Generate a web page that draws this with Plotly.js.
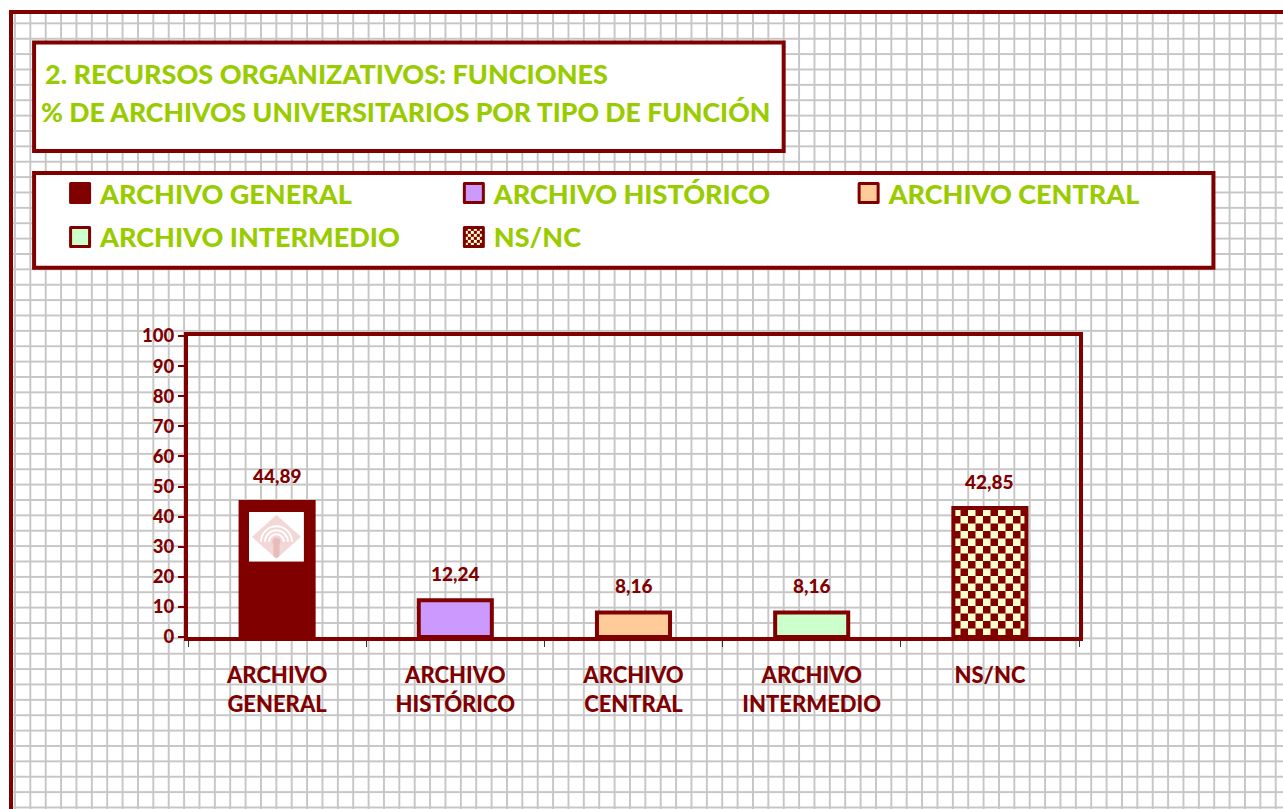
<!DOCTYPE html>
<html>
<head>
<meta charset="utf-8">
<script src="https://cdn.plot.ly/plotly-3.0.1.min.js"></script>
<style>
html,body{margin:0;padding:0;background:#fff;width:1283px;height:809px;overflow:hidden}
#frame{position:absolute;left:9px;top:10px;width:1300px;height:820px;
  border-left:4px solid #800000;border-top:4px solid #800000;background-color:#fff;
  background-image:linear-gradient(to right,#c6c6c6 0,#c6c6c6 2px,transparent 2px),
                   linear-gradient(to bottom,#c6c6c6 0,#c6c6c6 2px,transparent 2px);
  background-size:15.375px 15.375px;background-position:1px 8.4px;}
#chart{position:absolute;left:0;top:0;width:1283px;height:809px}
</style>
</head>
<body>
<div id="frame"></div>
<div id="chart"></div>
<script>
// ---- data ----
var categories = ['ARCHIVO GENERAL', 'ARCHIVO HISTÓRICO', 'ARCHIVO CENTRAL', 'ARCHIVO INTERMEDIO', 'NS/NC'];
var tickLabels = ['ARCHIVO<br>GENERAL', 'ARCHIVO<br>HISTÓRICO', 'ARCHIVO<br>CENTRAL', 'ARCHIVO<br>INTERMEDIO', 'NS/NC'];
var values = [44.89, 12.24, 8.16, 8.16, 42.85];
var yTicks = [0, 10, 20, 30, 40, 50, 60, 70, 80, 90, 100];
var titleLines = ['2. RECURSOS ORGANIZATIVOS: FUNCIONES', '% DE ARCHIVOS UNIVERSITARIOS POR TIPO DE FUNCIÓN'];

// ---- styles ----
var DARK = '#800000', GREEN = '#99cc00';
var barColors = ['#800000', '#cc99ff', '#ffcc99', '#ccffcc', '#ffffcc'];
var FONT = 'Lato, "Open Sans", sans-serif';
var W8 = 900;

// plot area in pixels
var L = 188, R = 1079.5, T = 335.5, B = 637.5;
function px(x) { return (x - L) / (R - L); }
function py(y) { return (B - y) / (B - T); }

var legendIds = ['legend', 'legend2', 'legend3', 'legend4', 'legend5'];
var legendPos = [[60, 192.5], [454, 192.5], [849, 192.5], [60, 236.5], [454, 236.5]];

var traces = categories.map(function (c, i) {
  var t = {
    type: 'bar', name: c, x: [c], y: [values[i]],
    legend: legendIds[i], width: 0.41,
    marker: { color: barColors[i], line: { color: DARK, width: 4 } },
    hoverinfo: 'skip'
  };
  if (i === 4) {
    t.marker.pattern = { shape: 'x', bgcolor: '#ffffcc', fgcolor: DARK, size: 10, solidity: 0.5, fillmode: 'replace' };
  }
  return t;
});

function legendCfg(p) {
  return {
    x: px(p[0]), y: py(p[1]), xref: 'paper', yref: 'paper',
    xanchor: 'left', yanchor: 'middle', orientation: 'v',
    bgcolor: 'rgba(0,0,0,0)', borderwidth: 0, itemwidth: 30,
    font: { family: FONT, size: 27, color: GREEN, weight: W8 }
  };
}

var annotations = [
  { xref: 'paper', yref: 'paper', x: px(43), y: py(72), xanchor: 'left', yanchor: 'middle', showarrow: false,
    text: titleLines[0], font: { family: FONT, size: 27, color: GREEN, weight: W8 } },
  { xref: 'paper', yref: 'paper', x: px(39), y: py(110.5), xanchor: 'left', yanchor: 'middle', showarrow: false,
    text: titleLines[1], font: { family: FONT, size: 26.6, color: GREEN, weight: W8 } }
];
categories.forEach(function (c, i) {
  annotations.push({
    x: c, y: values[i], xref: 'x', yref: 'y', yanchor: 'bottom', yshift: 13, showarrow: false,
    text: values[i].toFixed(2).replace('.', ','),
    font: { family: FONT, size: 19, color: DARK, weight: W8 }
  });
});

var shapes = [
  { type: 'rect', xref: 'paper', yref: 'paper', x0: px(34), x1: px(784), y0: py(41), y1: py(150),
    line: { color: DARK, width: 4 }, fillcolor: '#ffffff', layer: 'below' },
  { type: 'rect', xref: 'paper', yref: 'paper', x0: px(34), x1: px(1214), y0: py(172), y1: py(267),
    line: { color: DARK, width: 4 }, fillcolor: '#ffffff', layer: 'below' }
];

var logo = 'data:image/svg+xml;utf8,' + encodeURIComponent(
  '<svg xmlns="http://www.w3.org/2000/svg" width="55" height="50" viewBox="0 0 55 50">' +
  '<rect width="55" height="50" fill="#ffffff"/>' +
  '<polygon points="27.5,3 52,25 27.5,47 3,25" fill="#f3d6d6"/>' +
  '<path d="M12,30 A15.5,15.5 0 0 1 43,30" fill="none" stroke="#ffffff" stroke-width="2"/>' +
  '<path d="M16,30 A11.5,11.5 0 0 1 39,30" fill="none" stroke="#ffffff" stroke-width="2"/>' +
  '<path d="M20,30 A7.5,7.5 0 0 1 35,30" fill="none" stroke="#ffffff" stroke-width="2"/>' +
  '<circle cx="27.5" cy="30" r="4" fill="#e8bcbc"/>' +
  '<rect x="24.5" y="31" width="6" height="15" rx="3" fill="#e8bcbc"/>' +
  '</svg>');

var layout = {
  width: 1283, height: 809,
  margin: { l: L, r: 1283 - R, t: T, b: 809 - B, pad: 0, autoexpand: false },
  paper_bgcolor: 'rgba(0,0,0,0)', plot_bgcolor: 'rgba(0,0,0,0)',
  barmode: 'overlay',
  showlegend: true,
  xaxis: {
    type: 'category', categoryorder: 'array', categoryarray: categories,
    tickmode: 'array', tickvals: categories, ticktext: tickLabels,
    tickson: 'boundaries', ticks: 'outside', ticklen: 6, tickwidth: 1, tickcolor: '#333333',
    ticklabelstandoff: 16,
    tickfont: { family: FONT, size: 22, color: DARK, weight: W8 },
    showline: true, linecolor: DARK, linewidth: 4, mirror: true,
    showgrid: false, zeroline: false, fixedrange: true
  },
  yaxis: {
    range: [0, 100], tickmode: 'array', tickvals: yTicks,
    ticks: 'outside', ticklen: 6, tickwidth: 2, tickcolor: DARK,
    tickfont: { family: FONT, size: 18.5, color: DARK, weight: W8 },
    showline: true, linecolor: DARK, linewidth: 4, mirror: true,
    showgrid: false, zeroline: false, fixedrange: true
  },
  annotations: annotations,
  shapes: shapes,
  images: [{ source: logo, xref: 'paper', yref: 'paper', x: px(249), y: py(512),
    sizex: 55 / (R - L), sizey: 50 / (B - T), xanchor: 'left', yanchor: 'top', sizing: 'stretch', layer: 'above' }]
};
legendIds.forEach(function (id, i) { layout[id] = legendCfg(legendPos[i]); });

Plotly.newPlot('chart', traces, layout, { staticPlot: true, displayModeBar: false }).then(function (gd) {
  var ns = 'http://www.w3.org/2000/svg';
  var defs = gd.querySelector('.main-svg defs');
  function makeChecker(id, cell) {
    var pat = document.createElementNS(ns, 'pattern');
    pat.setAttribute('id', id);
    pat.setAttribute('patternUnits', 'userSpaceOnUse');
    pat.setAttribute('width', 2 * cell);
    pat.setAttribute('height', 2 * cell);
    var rects = [[0, 0, 2 * cell, '#ffffcc'], [0, 0, cell, DARK], [cell, cell, cell, DARK]];
    rects.forEach(function (r) {
      var e = document.createElementNS(ns, 'rect');
      e.setAttribute('x', r[0]); e.setAttribute('y', r[1]);
      e.setAttribute('width', r[2]); e.setAttribute('height', r[2]);
      e.setAttribute('fill', r[3]);
      pat.appendChild(e);
    });
    defs.appendChild(pat);
  }
  makeChecker('checkerBar', 7.5);
  makeChecker('checkerLeg', 3);
  gd.querySelectorAll('.barlayer .point path').forEach(function (p) {
    if ((p.style.fill || '').indexOf('url') >= 0) p.style.fill = 'url(#checkerBar)';
  });
  gd.querySelectorAll('.legendpoints path').forEach(function (p) {
    if ((p.style.fill || '').indexOf('url') >= 0) p.style.fill = 'url(#checkerLeg)';
    var orig = p.getAttribute('transform') || '';
    p.setAttribute('d', 'M9.5,9.5H-9.5V-9.5H9.5Z');
    p.setAttribute('transform', orig);
    p.style.strokeWidth = '3px';
    p.style.strokeLinejoin = 'round';
  });
});
</script>
</body>
</html>
